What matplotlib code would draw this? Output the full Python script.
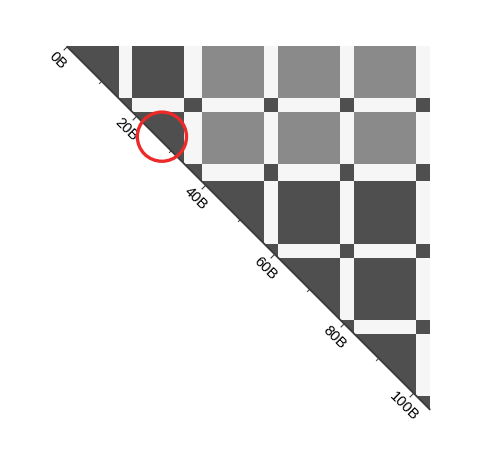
import matplotlib
matplotlib.use("Agg")
import matplotlib.pyplot as plt
import numpy as np
from matplotlib.patches import Polygon, Circle
from matplotlib.path import Path
from matplotlib.colors import ListedColormap

# ---- data (byte layout) ----
seg_starts = [0, 15, 19, 34, 39, 57, 61, 79, 83, 101]
seg_ends = [15, 19, 34, 39, 57, 61, 79, 83, 101, 105]
seg_group = ["A", "pad", "A", "pad", "B", "pad", "B", "pad", "B", "pad"]
total_bytes = 105
major_ticks = [0, 20, 40, 60, 80, 100]
minor_ticks = [10, 30, 50, 70, 90]
tick_labels = ["0B", "20B", "40B", "60B", "80B", "100B"]
highlight_center = (27.5, 26.1)
highlight_radius = 7.1

# ---- build matrix ----
group_of = np.empty(total_bytes, dtype=object)
for s, e, g in zip(seg_starts, seg_ends, seg_group):
    group_of[s:e] = g

M = np.zeros((total_bytes, total_bytes))
for i in range(total_bytes):
    for j in range(total_bytes):
        gi, gj = group_of[i], group_of[j]
        if gi == "pad" and gj == "pad":
            M[i, j] = 2
        elif gi == "pad" or gj == "pad":
            M[i, j] = 0
        elif gi == gj:
            M[i, j] = 2
        else:
            M[i, j] = 1

cmap = ListedColormap(["#f6f6f6", "#8a8a8a", "#4f4f4f"])

W, H = 491, 477
fig = plt.figure(figsize=(W / 100, H / 100), dpi=100)
fig.patch.set_facecolor("white")
x0, y0 = 66.7, 47.3
side = 363.6
ax = fig.add_axes([x0 / W, 1 - (y0 + side) / H, side / W, side / H])
ax.set_xlim(0, total_bytes)
ax.set_ylim(total_bytes, 0)
ax.axis("off")

edges = np.arange(total_bytes + 1)
mesh = ax.pcolormesh(edges, edges, M, cmap=cmap, vmin=-0.5, vmax=2.5,
                     shading="flat", antialiased=False)
tri = Polygon([(0, 0), (total_bytes, 0), (total_bytes, total_bytes)], closed=True,
              transform=ax.transData, facecolor="none", edgecolor="none")
mesh.set_clip_path(tri)

axis_color = "#3a3a3a"
ax.plot([0, total_bytes], [0, total_bytes], color=axis_color, lw=1.3,
        clip_on=False, solid_capstyle="butt", zorder=3)

tick_marker = Path([(0, 0), (-1, -1)], [Path.MOVETO, Path.LINETO])
ax.plot(major_ticks, major_ticks, ls="none", marker=tick_marker, ms=5.5,
        mew=0.8, color=axis_color, clip_on=False, zorder=3)
ax.plot(minor_ticks, minor_ticks, ls="none", marker=tick_marker, ms=3.5,
        mew=0.7, color=axis_color, clip_on=False, zorder=3)

for v, lab in zip(major_ticks, tick_labels):
    ax.annotate(lab, xy=(v, v), xytext=(-6.6, -9.3), textcoords="offset points",
                rotation=-45, rotation_mode="anchor", ha="center", va="center",
                fontsize=10.5, family="Liberation Sans", color="#000000",
                annotation_clip=False)

ax.add_patch(Circle(highlight_center, highlight_radius, fill=False,
                    edgecolor="#ec2a2a", lw=2.4, clip_on=False, zorder=5))

fig.savefig("out.png", dpi=100)
